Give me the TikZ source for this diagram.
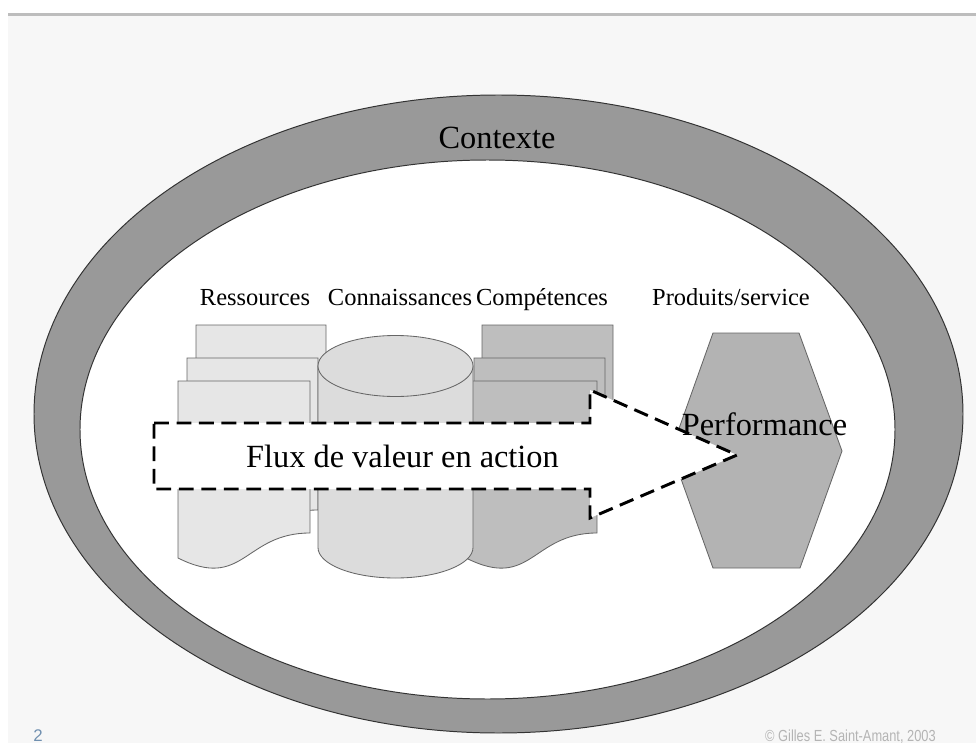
\documentclass[tikz,border=0pt]{standalone}
\usepackage{fontspec}
\setmainfont{Liberation Serif}
\newfontfamily\piedfont{Liberation Sans}

\definecolor{fond}{HTML}{F7F7F7}
\definecolor{filet}{HTML}{BDBDBD}
\definecolor{anneau}{HTML}{999999}
\definecolor{contour}{HTML}{333333}
\definecolor{trait}{HTML}{666666}
\definecolor{clair}{HTML}{E6E6E6}
\definecolor{moyen}{HTML}{DCDCDC}
\definecolor{fonce}{HTML}{BEBEBE}
\definecolor{hexa}{HTML}{B3B3B3}
\definecolor{numero}{HTML}{7090B0}
\definecolor{credit}{HTML}{B4B4B4}

\newcommand{\grand}{\fontsize{23}{27}\selectfont}
\newcommand{\moyenne}{\fontsize{17.4}{20}\selectfont}

\begin{document}
\begin{tikzpicture}[x=0.025cm,y=-0.025cm,
    bord/.style={draw=contour,line width=0.7pt},
    ressource/.style={draw=trait,line width=0.6pt,fill=clair},
    competence/.style={draw=trait,line width=0.6pt,fill=fonce},
    savoir/.style={draw=trait,line width=0.6pt,fill=moyen},
    fleche/.style={draw=black,fill=white,line width=2.1pt,dash pattern=on 10.5pt off 5.5pt},
    etiquette/.style={anchor=base,font=\moyenne},
    titre/.style={anchor=base,font=\grand}]

    \useasboundingbox (0,0) rectangle (976,743);
    \fill[white] (0,0) rectangle (976,743);
    \fill[fond] (8,15) rectangle (976,743);
    \fill[filet] (8,12.5) rectangle (976,15.5);

    % contexte
    \draw[bord,fill=anneau] (498.5,414) ellipse [x radius=464.5, y radius=319];
    \draw[bord,fill=white] (487.5,429.5) ellipse [x radius=407.5, y radius=269.5];

    % ressources
    \draw[ressource] (196,325) -- ++(130,0) -- ++(0,152) .. controls +(-65,0) and +(65,33) .. ++(-130,25) -- cycle;
    \draw[ressource] (187,358) -- ++(131,0) -- ++(0,152) .. controls +(-65.5,0) and +(65.5,33) .. ++(-131,25) -- cycle;
    \draw[ressource] (178,381) -- ++(132,0) -- ++(0,152) .. controls +(-66,0) and +(66,33) .. ++(-132,25) -- cycle;

    % competences
    \draw[competence] (482,325) -- ++(131,0) -- ++(0,152) .. controls +(-65.5,0) and +(65.5,33) .. ++(-131,25) -- cycle;
    \draw[competence] (474,358) -- ++(131,0) -- ++(0,152) .. controls +(-65.5,0) and +(65.5,33) .. ++(-131,25) -- cycle;
    \draw[competence] (466,381) -- ++(131,0) -- ++(0,152) .. controls +(-65.5,0) and +(65.5,33) .. ++(-131,25) -- cycle;

    % connaissances
    \draw[savoir] (318,366) -- (318,547.5) arc [start angle=180, end angle=0, x radius=77.5, y radius=30.5] -- (473,366) -- cycle;
    \draw[savoir] (395.5,366) ellipse [x radius=77.5, y radius=30.5];

    % produits
    \draw[bord,draw=trait,line width=0.6pt,fill=hexa] (713,333) -- (799,333) -- (842,451) -- (800,568) -- (713,568) -- (671,451) -- cycle;

    % flux
    \draw[fleche] (154,423) -- (590,423) -- (590,390) -- (737,455) -- (590,518) -- (590,489) -- (154,489) -- cycle;

    \node[titre] (contexte) at (497,148) {Contexte};
    \node[etiquette] (ressources) at (255,305) {Ressources};
    \node[etiquette] (connaissances) at (400,305) {Connaissances};
    \node[etiquette] (competences) at (542,305) {Compétences};
    \node[etiquette] (produits) at (731,305) {Produits/service};
    \node[titre] (flux) at (402.5,467) {Flux de valeur en action};
    \node[titre] (performance) at (764.5,435) {Performance};

    \node[anchor=base west,inner sep=0pt,text=numero,font=\piedfont\fontsize{12}{14}\selectfont] (page) at (33,741) {2};
    \node[anchor=base east,inner sep=0pt,text=credit,font=\piedfont\fontsize{11.4}{13}\selectfont] (auteur) at (936,741) {\scalebox{0.8}[1]{© Gilles E. Saint-Amant, 2003}};
\end{tikzpicture}
\end{document}
